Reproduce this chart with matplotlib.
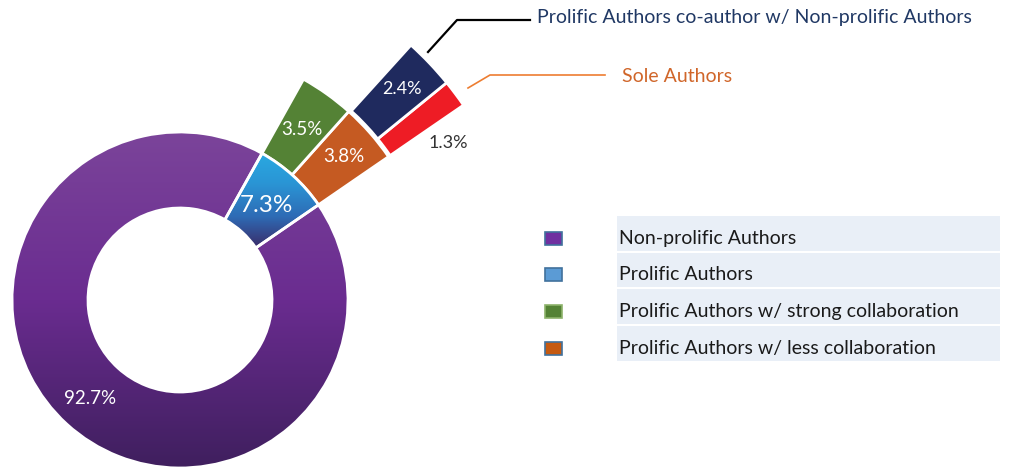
import matplotlib
matplotlib.use("Agg")
import matplotlib.pyplot as plt
import numpy as np
from matplotlib.colors import LinearSegmentedColormap
from matplotlib.patches import Rectangle

# inner ring: all authors
inner_labels = ["Prolific Authors", "Non-prolific Authors"]
inner_values = [7.3, 92.7]
# middle ring: how the prolific authors split up
middle_labels = ["Prolific Authors w/ less collaboration",
                 "Prolific Authors w/ strong collaboration"]
middle_values = [3.8, 3.5]
# outer ring: split of the less-collaborating prolific authors
outer_labels = ["Sole Authors", "Prolific Authors co-author w/ Non-prolific Authors"]
outer_values = [1.3, 2.4]

legend_labels = ["Non-prolific Authors", "Prolific Authors",
                 "Prolific Authors w/ strong collaboration",
                 "Prolific Authors w/ less collaboration"]
legend_colors = ["#7030A0", "#5B9BD5", "#548235", "#C55A11"]

W, H = 1017, 472
FONT = ["Lato", "DejaVu Sans"]
plt.rcParams["font.family"] = FONT


def py(y_px):
    """Pixel row (top-down) to data y (bottom-up)."""
    return H - y_px


fig = plt.figure(figsize=(W / 100, H / 100), dpi=100)
ax = fig.add_axes([0, 0, 1, 1])

cx, cy = 180, py(300)
r1_in, r1_out = 92, 168
r2_out = 253
r3_in, r3_out = 255, 344
start = 34.5
edge = dict(edgecolor="white", linewidth=2)

inner, _ = ax.pie(inner_values, startangle=start, center=(cx, cy), radius=r1_out,
                  wedgeprops=dict(width=r1_out - r1_in, **edge))
middle, _ = ax.pie([v / 100 for v in middle_values], normalize=False, startangle=start,
                   center=(cx, cy), radius=r2_out, colors=["#C55A22", "#548235"],
                   wedgeprops=dict(width=r2_out - r1_out, **edge))
outer, _ = ax.pie([v / 100 for v in outer_values], normalize=False, startangle=start,
                  center=(cx, cy), radius=r3_out, colors=["#EE1C25", "#1F2A5E"],
                  wedgeprops=dict(width=r3_out - r3_in, **edge))

# vertical gradients for the two inner wedges, clipped to the wedge shape
grad = np.linspace(0, 1, 256).reshape(-1, 1)
gradients = {
    1: (["#3F1F5E", "#6A2C90", "#7B449A"], (cx - r1_out, cx + r1_out, cy - r1_out, cy + r1_out)),
    0: (["#3B2763", "#2E6BB5", "#2A95D5", "#29ABE2"], (cx, cx + r1_out, py(250), py(150))),
}
for idx, (cols, extent) in gradients.items():
    w = inner[idx]
    cmap = LinearSegmentedColormap.from_list(f"g{idx}", cols)
    im = ax.imshow(grad, cmap=cmap, extent=extent, origin="lower", aspect="auto", zorder=2)
    im.set_clip_path(w)
    w.set_facecolor("none")
    w.set_zorder(3)


def label_at(angle, radius, text, **kw):
    a = np.deg2rad(angle)
    ax.text(cx + radius * np.cos(a), cy + radius * np.sin(a), text,
            ha="center", va="center", zorder=5, **kw)


def mids(values):
    edges = start + np.cumsum([0] + [v / 100 * 360 for v in values])
    return (edges[:-1] + edges[1:]) / 2


im_mid = mids(inner_values)
label_at(im_mid[0], 128, f"{inner_values[0]}%", color="white", fontsize=17.5)
label_at(im_mid[1], 133, f"{inner_values[1]}%", color="white", fontsize=13.5)
mm = mids(middle_values)
label_at(mm[0], 218, f"{middle_values[0]}%", color="white", fontsize=13.5)
label_at(mm[1], 210, f"{middle_values[1]}%", color="white", fontsize=13.5)
om = mids(outer_values)
label_at(om[0] - 6.5, 311, f"{outer_values[0]}%", color="#333333", fontsize=13)
label_at(om[1], 306, f"{outer_values[1]}%", color="white", fontsize=13)

# callouts for the outer ring
ax.plot([428, 457, 530], [py(52), py(20), py(20)], color="black", lw=1.6, zorder=4)
ax.text(537, py(18), outer_labels[1], color="#203864", fontsize=14,
        ha="left", va="center")
ax.plot([468, 490, 605], [py(88), py(75), py(75)], color="#ED7D31", lw=1.2, zorder=4)
ax.text(622, py(76), outer_labels[0], color="#D0662A", fontsize=14,
        ha="left", va="center")

# legend table
row_top, row_h, row_gap = 216, 34.5, 2.2
for i, (lab, col) in enumerate(zip(legend_labels, legend_colors)):
    top = row_top + i * (row_h + row_gap)
    ax.add_patch(Rectangle((617, py(top + row_h)), 383, row_h,
                           facecolor="#E9EFF7", edgecolor="none", zorder=1))
    mid = top + row_h / 2 + 5
    ec = "#8DB36B" if col == "#548235" else "#41719C"
    ax.add_patch(Rectangle((545, py(mid + 6.5)), 17, 13, facecolor=col,
                           edgecolor=ec, lw=1.2, zorder=2))
    ax.text(619, py(mid), lab, color="#1A1A1A", fontsize=14, ha="left", va="center")

ax.set_xlim(0, W)
ax.set_ylim(0, H)
ax.set_aspect("auto")
ax.axis("off")
fig.savefig("out.png", dpi=100)
